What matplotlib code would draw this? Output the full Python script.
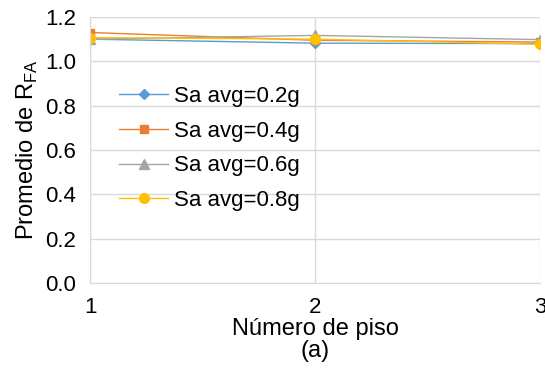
import numpy as np
import matplotlib.pyplot as plt

plt.rcParams['font.family'] = ['Liberation Sans', 'DejaVu Sans']

pisos = [1, 2, 3]
sa_02 = [1.100, 1.082, 1.080]
sa_04 = [1.130, 1.095, 1.087]
sa_06 = [1.100, 1.117, 1.098]
sa_08 = [1.107, 1.100, 1.077]

series = [
    ('Sa avg=0.2g', sa_02, '#5B9BD5', 'D', 5),
    ('Sa avg=0.4g', sa_04, '#ED7D31', 's', 6),
    ('Sa avg=0.6g', sa_06, '#A5A5A5', '^', 6.5),
    ('Sa avg=0.8g', sa_08, '#FFC000', 'o', 7),
]

fig = plt.figure(figsize=(5.45, 3.68), dpi=100)
ax = fig.add_axes([90 / 545, 1 - 283 / 368, 450 / 545, 266 / 368])

for name, vals, col, mk, ms in series:
    ax.plot(pisos, vals, color=col, marker=mk, markersize=ms, linewidth=1, label=name)

ax.set_xlim(1, 3)
ax.set_ylim(0, 1.2)
ax.set_xticks([1, 2, 3])
ax.set_yticks(np.arange(0, 1.21, 0.2))
ax.yaxis.set_major_formatter(plt.FormatStrFormatter('%.1f'))
ax.grid(True, color='#D9D9D9', linewidth=1)
ax.set_axisbelow(True)
for s in ['top', 'right']:
    ax.spines[s].set_visible(False)
for s in ['left', 'bottom']:
    ax.spines[s].set_color('#D9D9D9')
ax.tick_params(length=0, labelsize=16, pad=10)
ax.set_xlabel('Número de piso\n(a)', fontsize=17, labelpad=0, linespacing=1.0)
ax.set_ylabel('Promedio de R$_{\\mathregular{FA}}$', fontsize=17, labelpad=4)

ax.legend(loc='upper left', bbox_to_anchor=(0.045, 0.775), frameon=False, fontsize=16,
          handlelength=2.2, handletextpad=0.25, labelspacing=0.62, borderaxespad=0)

fig.savefig('out.png', dpi=100)
